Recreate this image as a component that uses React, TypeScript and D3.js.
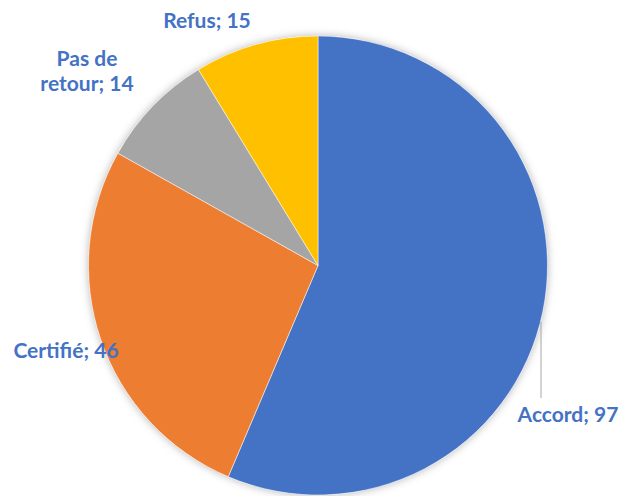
import React from "react";
import * as d3 from "d3";

const categories = ["Accord", "Certifié", "Pas de retour", "Refus"];
const values = [97, 46, 14, 15];
const colors = ["#4472C4", "#ED7D31", "#A5A5A5", "#FFC000"];
// label lines and anchor (layout)
const labelLines = [["Accord; 97"], ["Certifié; 46"], ["Pas de", "retour; 14"], ["Refus; 15"]];
const labelPos: [number, number][] = [[568, 422], [66, 358], [87, 66], [207, 28]];

export default function App() {
  const W = 622, H = 496;
  const cx = 318, cy = 265.5, r = 229.5;
  const pie = d3.pie<number>().sort(null).value((d) => d)(values);
  const arc = d3.arc<d3.PieArcDatum<number>>().innerRadius(0).outerRadius(r);
  const lx = 541;
  const ly1 = cy + Math.sqrt(r * r - (lx - cx) * (lx - cx)) + 2;
  return (
    <svg width={W} height={H} style={{ position: "absolute", left: 0, top: 0, display: "block" }}>
      <defs>
        <filter id="sh" x="-20%" y="-20%" width="140%" height="140%">
          <feDropShadow dx="0" dy="0" stdDeviation="4" floodColor="#000" floodOpacity="0.3" />
        </filter>
      </defs>
      <rect width={W} height={H} fill="#fff" />
      <g transform={`translate(${cx},${cy})`}>
        <circle r={r} fill="#fff" filter="url(#sh)" />
        {pie.map((p, i) => (
          <path key={categories[i]} d={arc(p) || ""} fill={colors[i]} stroke="#fff" strokeWidth={0.5} />
        ))}
      </g>
      <line x1={lx} x2={lx} y1={ly1} y2={398} stroke="#A6A6A6" strokeWidth={1} />
      {labelLines.map((lines, i) => (
        <text key={i} x={labelPos[i][0]} y={labelPos[i][1]} textAnchor="middle"
          fontFamily="Lato, 'Open Sans', sans-serif" fontWeight="bold" fontSize={21} fill="#4472C4">
          {lines.map((l, j) => (
            <tspan key={j} x={labelPos[i][0]} dy={j === 0 ? 0 : 25}>{l}</tspan>
          ))}
        </text>
      ))}
    </svg>
  );
}
